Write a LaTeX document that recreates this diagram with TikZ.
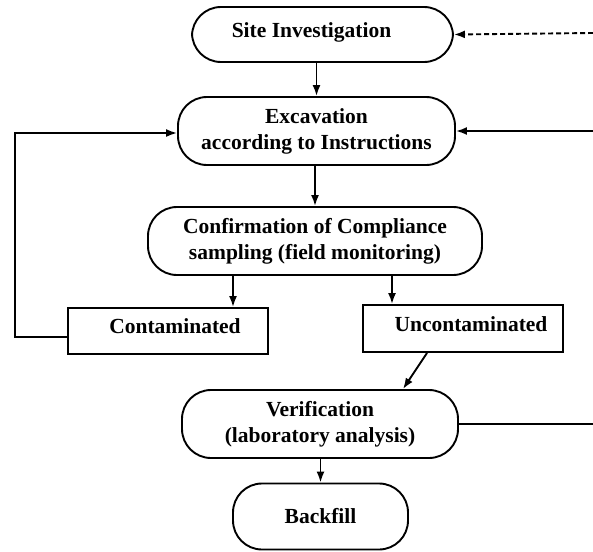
\documentclass[tikz,border=0pt]{standalone}
\usepackage{fontspec}
\setmainfont{Liberation Serif}
\usetikzlibrary{arrows.meta}
\begin{document}
\begin{tikzpicture}[x=1pt,y=-1pt,
  every node/.style={font=\fontsize{21.5}{26}\selectfont\bfseries},
  stadium/.style={draw,line width=1.9pt,rounded corners=29pt,align=center,inner sep=0pt},
  plainbox/.style={draw,line width=1.9pt,inner sep=0pt},
  txt/.style={inner sep=0pt,align=center},
  arr/.style={line width=1.9pt,-{Latex[length=11pt,width=8pt]}},
  link/.style={line width=1.9pt}]
\useasboundingbox (0,0) rectangle (593,551);

% process boxes
\node[stadium,minimum width=261pt,minimum height=55pt] (site) at (322.5,34.5) {};
\node[txt] (siteT) at (311.5,32) {Site Investigation};
\node[stadium,minimum width=277pt,minimum height=68pt] (exc) at (316.5,131) {Excavation\\according to Instructions};
\node[stadium,minimum width=334pt,minimum height=68pt] (conf) at (315,241) {Confirmation of Compliance\\sampling (field monitoring)};
\node[plainbox,minimum width=200pt,minimum height=46pt] (cont) at (168,331) {};
\node[txt] (contT) at (175,326) {Contaminated};
\node[plainbox,minimum width=200pt,minimum height=47pt] (uncont) at (463,328.5) {};
\node[txt] (uncontT) at (471,324) {Uncontaminated};
\node[stadium,minimum width=276pt,minimum height=68pt] (ver) at (320,424) {Verification\\(laboratory analysis)};
\node[stadium,minimum width=175pt,minimum height=66pt] (back) at (320.5,516.5) {Backfill};

% free ends at the margins
\coordinate (din) at (593,33);
\coordinate (rin) at (593,131);
\coordinate (vout) at (593,424);
\coordinate (fb) at (15,200);

% connectors
\draw[arr,dash pattern=on 5pt off 3pt] (din) -- (site.east);
\draw[arr] (exc.north |- site.south) -- (exc.north);
\draw[arr] (rin) -- (exc.east);
\draw[arr] (conf.north |- exc.south) -- (conf.north);
\draw[arr] ([xshift=65pt]cont.north |- conf.south) -- ([xshift=65pt]cont.north);
\draw[arr] ([xshift=-71pt]uncont.north |- conf.south) -- ([xshift=-71pt]uncont.north);
\draw[arr] ([yshift=-6pt]cont.west) -| (fb) |- ([yshift=-2pt]exc.west);
\draw[arr] ([xshift=-36pt]uncont.south) -- ([xshift=83pt]ver.north);
\draw[link] (ver.east) -- (vout);
\draw[arr] (back.north |- ver.south) -- (back.north);
\end{tikzpicture}
\end{document}
